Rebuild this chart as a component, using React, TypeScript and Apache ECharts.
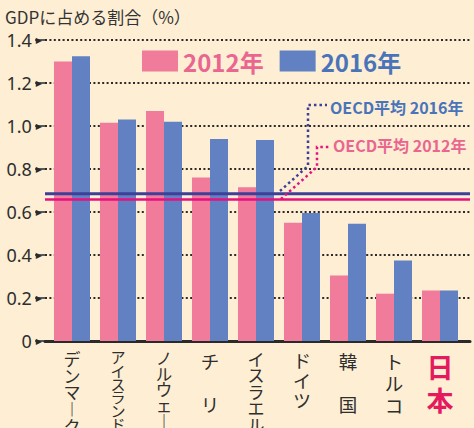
import React, { useEffect, useRef } from "react";
import * as echarts from "echarts";

const categories = ["デンマーク", "アイスランド", "ノルウェー", "チリ", "イスラエル", "ドイツ", "韓国", "トルコ", "日本"];
const values2012 = [1.3, 1.015, 1.07, 0.76, 0.715, 0.55, 0.305, 0.22, 0.235];
const values2016 = [1.325, 1.03, 1.02, 0.94, 0.935, 0.595, 0.545, 0.375, 0.235];
const seriesNames = ["2012年", "2016年"];
const oecdAverages = [0.658, 0.685];
const oecdLabels = ["OECD平均 2012年", "OECD平均 2016年"];
const yMin = 0;
const yMax = 1.4;
const yInterval = 0.2;

const PINK = "#f17b9b";
const BLUE = "#6281c2";
const LINE_PINK = "#e6117f";
const LINE_BLUE = "#3d3f98";
const TEXT_PINK = "#ea6690";
const TEXT_BLUE = "#4a74ba";
const BG = "#fdeed4";
const INK = "#2e2e2e";
const JP = "'Noto Sans CJK JP', 'Noto Sans', sans-serif";

// vertical label style per category (font size / character pitch)
const labelStyleKey: Record<string, string> = {
  "デンマーク": "a",
  "アイスランド": "b",
  "ノルウェー": "c",
  "イスラエル": "d",
  "ドイツ": "e",
  "トルコ": "f",
};

export default function App() {
  const ref = useRef<HTMLDivElement>(null);
  useEffect(() => {
    document.body.style.margin = "0";
    const chart = echarts.init(ref.current!, undefined, { renderer: "svg" });
    const top = 40;
    const bottom = 87;
    const rs = (fontSize: number, lineHeight: number) => ({
      fontSize,
      lineHeight,
      color: INK,
      fontFamily: JP,
      align: "center",
    });
    const option: any = {
      animation: false,
      backgroundColor: BG,
      title: {
        text: "GDPに占める割合（%）",
        left: 5,
        top: 8,
        padding: 0,
        textStyle: { fontSize: 17, fontWeight: "normal", color: "#333", fontFamily: JP },
      },
      legend: {
        left: 142,
        top: 49,
        padding: 0,
        itemWidth: 36,
        itemHeight: 21,
        itemGap: 16,
        icon: "rect",
        data: [
          { name: seriesNames[0], textStyle: { color: TEXT_PINK } },
          { name: seriesNames[1], textStyle: { color: TEXT_BLUE } },
        ],
        textStyle: { fontSize: 24, fontWeight: "bold", fontFamily: JP },
      },
      grid: [
        { left: 45, right: 4, top, bottom, outerBoundsMode: "none", containLabel: false },
        { left: 49, right: 11, top, bottom, outerBoundsMode: "none", containLabel: false },
      ],
      xAxis: [
        {
          type: "value",
          gridIndex: 0,
          min: 0,
          max: 1,
          axisLine: { show: true, onZero: false, lineStyle: { color: "#2a2a2a", width: 3 } },
          axisTick: { show: false },
          axisLabel: { show: false },
          splitLine: { show: false },
        },
        {
          type: "category",
          gridIndex: 1,
          data: categories,
          axisLine: { show: false },
          axisTick: { show: false },
          axisLabel: {
            interval: 0,
            margin: 9,
            verticalAlign: "top",
            formatter: (name: string) => {
              if (name === "日本") return name.split("").map((c) => `{j|${c}}`).join("\n");
              if (name.length === 2) return `{s|${name[0]}}\n{s| }\n{s|${name[1]}}`;
              const k = labelStyleKey[name] || "a";
              return name
                .split("")
                .map((c) => `{${k}|${c === "ー" ? "︱" : c}}`)
                .join("\n");
            },
            rich: {
              a: rs(17, 16.7),
              b: rs(15, 13.4),
              c: rs(16.5, 15.7),
              d: rs(17, 16.5),
              e: rs(18, 20),
              f: rs(18.5, 22),
              s: rs(18.5, 21.5),
              j: { fontSize: 27, lineHeight: 33, fontWeight: "bold", color: "#e5195e", fontFamily: JP, align: "center" },
            },
          },
        },
      ],
      yAxis: [
        {
          type: "value",
          gridIndex: 0,
          min: yMin,
          max: yMax,
          interval: yInterval,
          axisLine: { show: false },
          axisTick: { show: true, length: 10, lineStyle: { color: "#2a2a2a", width: 1.5 } },
          axisLabel: {
            margin: 3,
            formatter: (v: number) => `{v|${v === 0 ? "0" : v.toFixed(1)}}{t|▶}`,
            rich: {
              v: { fontSize: 18, color: INK, fontFamily: "'Noto Sans', sans-serif" },
              t: { fontSize: 8, color: "#2a2a2a", fontFamily: "'DejaVu Sans', sans-serif", padding: [0, 0, 0, 4] },
            },
          },
          splitLine: { show: true, lineStyle: { color: "#2a2a2a", width: 2, type: [2, 2.4] } },
        },
        {
          type: "value",
          gridIndex: 1,
          min: yMin,
          max: yMax,
          interval: yInterval,
          show: false,
          splitLine: { show: false },
        },
      ],
      series: [
        {
          name: seriesNames[0],
          type: "bar",
          xAxisIndex: 1,
          yAxisIndex: 1,
          data: values2012,
          barWidth: 18,
          barGap: "0%",
          itemStyle: { color: PINK },
        },
        {
          name: seriesNames[1],
          type: "bar",
          xAxisIndex: 1,
          yAxisIndex: 1,
          data: values2016,
          barWidth: 18,
          barGap: "0%",
          itemStyle: { color: BLUE },
        },
        {
          name: oecdLabels[1],
          type: "line",
          xAxisIndex: 0,
          yAxisIndex: 0,
          data: [
            [0, oecdAverages[1]],
            [1, oecdAverages[1]],
          ],
          symbol: "none",
          z: 5,
          lineStyle: { color: LINE_BLUE, width: 3 },
        },
        {
          name: oecdLabels[0],
          type: "line",
          xAxisIndex: 0,
          yAxisIndex: 0,
          data: [
            [0, oecdAverages[0]],
            [1, oecdAverages[0]],
          ],
          symbol: "none",
          z: 5,
          lineStyle: { color: LINE_PINK, width: 2.5 },
        },
      ],
      graphic: [
        {
          type: "polyline",
          z: 10,
          shape: { points: [[280, 191], [308, 166], [308, 105], [327, 105]] },
          style: { stroke: LINE_BLUE, lineWidth: 2.5, lineDash: [2.5, 3], fill: null },
        },
        {
          type: "polyline",
          z: 10,
          shape: { points: [[281, 199], [317, 167], [317, 147], [330, 147]] },
          style: { stroke: LINE_PINK, lineWidth: 2.5, lineDash: [2.5, 3], fill: null },
        },
        {
          type: "text",
          z: 10,
          x: 330,
          y: 107,
          style: {
            text: oecdLabels[1],
            fill: TEXT_BLUE,
            font: `bold 16px ${JP}`,
            verticalAlign: "middle",
          },
        },
        {
          type: "text",
          z: 10,
          x: 333,
          y: 145,
          style: {
            text: oecdLabels[0],
            fill: TEXT_PINK,
            font: `bold 16px ${JP}`,
            verticalAlign: "middle",
          },
        },
      ],
    };
    chart.setOption(option);
    return () => chart.dispose();
  }, []);
  return (
    <div
      ref={ref}
      style={{ position: "fixed", left: 0, top: 0, width: 474, height: 428, background: BG }}
    />
  );
}
